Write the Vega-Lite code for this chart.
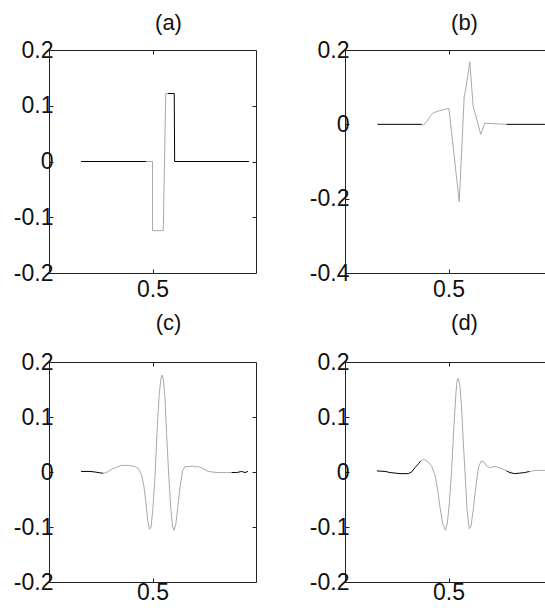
{
  "$schema": "https://vega.github.io/schema/vega-lite/v6.json",
  "background": "white",
  "padding": {"left": 12, "top": 11, "right": 0, "bottom": 0},
  "config": {
    "font": "Liberation Sans",
    "view": {"stroke": "#222222", "strokeWidth": 1},
    "axis": {
      "grid": false,
      "domain": false,
      "title": null,
      "tickColor": "#222222",
      "tickSize": -4,
      "labelFont": "Liberation Sans",
      "labelFontSize": 23,
      "labelColor": "#111111",
      "labelPadding": 0
    },
    "axisBottom": {"labelPadding": 4},
    "title": {"font": "Liberation Sans", "fontSize": 22, "fontWeight": "normal", "color": "#111111", "dx": 16, "baseline": "alphabetic"}
  },
  "columns": 2,
  "spacing": {"row": 89, "column": 89},
  "bounds": "flush",
  "datasets": {
    "a": [
      {"s": 1, "c": "k", "t": 0.155, "v": 0}, {"s": 1, "c": "k", "t": 0.47, "v": 0},
      {"s": 2, "c": "g", "t": 0.47, "v": 0}, {"s": 2, "c": "g", "t": 0.5, "v": 0},
      {"s": 2, "c": "g", "t": 0.5, "v": -0.124}, {"s": 2, "c": "g", "t": 0.552, "v": -0.124},
      {"s": 2, "c": "g", "t": 0.564, "v": 0.122}, {"s": 2, "c": "g", "t": 0.575, "v": 0.122},
      {"s": 3, "c": "k", "t": 0.575, "v": 0.122}, {"s": 3, "c": "k", "t": 0.605, "v": 0.122},
      {"s": 3, "c": "k", "t": 0.607, "v": 0}, {"s": 3, "c": "k", "t": 0.966, "v": 0}
    ],
    "b": [
      {"s": 1, "c": "k", "t": 0.157, "v": 0}, {"s": 1, "c": "k", "t": 0.371, "v": 0},
      {"s": 2, "c": "g", "t": 0.371, "v": 0}, {"s": 2, "c": "g", "t": 0.38, "v": -0.002},
      {"s": 2, "c": "g", "t": 0.387, "v": 0.003}, {"s": 2, "c": "g", "t": 0.398, "v": 0.009},
      {"s": 2, "c": "g", "t": 0.411, "v": 0.022}, {"s": 2, "c": "g", "t": 0.427, "v": 0.031},
      {"s": 2, "c": "g", "t": 0.451, "v": 0.036}, {"s": 2, "c": "g", "t": 0.475, "v": 0.039},
      {"s": 2, "c": "g", "t": 0.502, "v": 0.043}, {"s": 2, "c": "g", "t": 0.552, "v": -0.209},
      {"s": 2, "c": "g", "t": 0.576, "v": 0.076}, {"s": 2, "c": "g", "t": 0.582, "v": 0.09},
      {"s": 2, "c": "g", "t": 0.603, "v": 0.168}, {"s": 2, "c": "g", "t": 0.619, "v": 0.049},
      {"s": 2, "c": "g", "t": 0.656, "v": -0.027}, {"s": 2, "c": "g", "t": 0.675, "v": 0.003},
      {"s": 2, "c": "g", "t": 0.78, "v": 0},
      {"s": 3, "c": "k", "t": 0.78, "v": 0}, {"s": 3, "c": "k", "t": 0.966, "v": 0}
    ],
    "c": [
      {"s": 1, "c": "k", "t": 0.155, "v": 0.001}, {"s": 1, "c": "k", "t": 0.198, "v": 0.001},
      {"s": 1, "c": "k", "t": 0.222, "v": 0}, {"s": 1, "c": "k", "t": 0.254, "v": -0.002},
      {"s": 1, "c": "k", "t": 0.262, "v": -0.002},
      {"s": 2, "c": "g", "t": 0.262, "v": -0.002}, {"s": 2, "c": "g", "t": 0.27, "v": -0.002},
      {"s": 2, "c": "g", "t": 0.287, "v": 0.001}, {"s": 2, "c": "g", "t": 0.303, "v": 0.005},
      {"s": 2, "c": "g", "t": 0.327, "v": 0.009}, {"s": 2, "c": "g", "t": 0.351, "v": 0.012},
      {"s": 2, "c": "g", "t": 0.383, "v": 0.012}, {"s": 2, "c": "g", "t": 0.415, "v": 0.01},
      {"s": 2, "c": "g", "t": 0.432, "v": 0.006}, {"s": 2, "c": "g", "t": 0.448, "v": -0.006},
      {"s": 2, "c": "g", "t": 0.459, "v": -0.027}, {"s": 2, "c": "g", "t": 0.469, "v": -0.058},
      {"s": 2, "c": "g", "t": 0.477, "v": -0.088}, {"s": 2, "c": "g", "t": 0.485, "v": -0.104},
      {"s": 2, "c": "g", "t": 0.493, "v": -0.1}, {"s": 2, "c": "g", "t": 0.501, "v": -0.07},
      {"s": 2, "c": "g", "t": 0.512, "v": -0.009}, {"s": 2, "c": "g", "t": 0.523, "v": 0.082},
      {"s": 2, "c": "g", "t": 0.533, "v": 0.143}, {"s": 2, "c": "g", "t": 0.541, "v": 0.17},
      {"s": 2, "c": "g", "t": 0.546, "v": 0.176}, {"s": 2, "c": "g", "t": 0.552, "v": 0.17},
      {"s": 2, "c": "g", "t": 0.56, "v": 0.136}, {"s": 2, "c": "g", "t": 0.568, "v": 0.07},
      {"s": 2, "c": "g", "t": 0.578, "v": -0.003}, {"s": 2, "c": "g", "t": 0.588, "v": -0.064},
      {"s": 2, "c": "g", "t": 0.597, "v": -0.1}, {"s": 2, "c": "g", "t": 0.604, "v": -0.106},
      {"s": 2, "c": "g", "t": 0.613, "v": -0.094}, {"s": 2, "c": "g", "t": 0.622, "v": -0.064},
      {"s": 2, "c": "g", "t": 0.633, "v": -0.027}, {"s": 2, "c": "g", "t": 0.646, "v": 0.003},
      {"s": 2, "c": "g", "t": 0.657, "v": 0.01}, {"s": 2, "c": "g", "t": 0.681, "v": 0.01},
      {"s": 2, "c": "g", "t": 0.695, "v": 0.011}, {"s": 2, "c": "g", "t": 0.705, "v": 0.009},
      {"s": 2, "c": "g", "t": 0.721, "v": 0.01}, {"s": 2, "c": "g", "t": 0.745, "v": 0.006},
      {"s": 2, "c": "g", "t": 0.77, "v": 0.001}, {"s": 2, "c": "g", "t": 0.81, "v": -0.001},
      {"s": 2, "c": "g", "t": 0.858, "v": -0.001}, {"s": 2, "c": "g", "t": 0.882, "v": -0.001},
      {"s": 3, "c": "k", "t": 0.882, "v": -0.001}, {"s": 3, "c": "k", "t": 0.907, "v": -0.001},
      {"s": 3, "c": "k", "t": 0.931, "v": 0.001}, {"s": 3, "c": "k", "t": 0.947, "v": -0.001},
      {"s": 3, "c": "k", "t": 0.961, "v": 0.001}
    ],
    "d": [
      {"s": 1, "c": "k", "t": 0.154, "v": 0.002}, {"s": 1, "c": "k", "t": 0.194, "v": 0.001},
      {"s": 1, "c": "k", "t": 0.218, "v": -0.001}, {"s": 1, "c": "k", "t": 0.242, "v": -0.002},
      {"s": 1, "c": "k", "t": 0.266, "v": -0.003}, {"s": 1, "c": "k", "t": 0.306, "v": -0.003},
      {"s": 1, "c": "k", "t": 0.322, "v": 0}, {"s": 1, "c": "k", "t": 0.338, "v": 0.008},
      {"s": 1, "c": "k", "t": 0.355, "v": 0.015}, {"s": 1, "c": "k", "t": 0.365, "v": 0.02},
      {"s": 2, "c": "g", "t": 0.365, "v": 0.02}, {"s": 2, "c": "g", "t": 0.375, "v": 0.022},
      {"s": 2, "c": "g", "t": 0.387, "v": 0.022}, {"s": 2, "c": "g", "t": 0.403, "v": 0.018},
      {"s": 2, "c": "g", "t": 0.419, "v": 0.01}, {"s": 2, "c": "g", "t": 0.435, "v": -0.006},
      {"s": 2, "c": "g", "t": 0.448, "v": -0.033}, {"s": 2, "c": "g", "t": 0.459, "v": -0.064},
      {"s": 2, "c": "g", "t": 0.472, "v": -0.094}, {"s": 2, "c": "g", "t": 0.485, "v": -0.106},
      {"s": 2, "c": "g", "t": 0.494, "v": -0.094}, {"s": 2, "c": "g", "t": 0.504, "v": -0.058},
      {"s": 2, "c": "g", "t": 0.515, "v": 0.003}, {"s": 2, "c": "g", "t": 0.526, "v": 0.082},
      {"s": 2, "c": "g", "t": 0.536, "v": 0.143}, {"s": 2, "c": "g", "t": 0.542, "v": 0.167},
      {"s": 2, "c": "g", "t": 0.547, "v": 0.17}, {"s": 2, "c": "g", "t": 0.554, "v": 0.161},
      {"s": 2, "c": "g", "t": 0.562, "v": 0.124}, {"s": 2, "c": "g", "t": 0.571, "v": 0.058},
      {"s": 2, "c": "g", "t": 0.581, "v": -0.009}, {"s": 2, "c": "g", "t": 0.59, "v": -0.07},
      {"s": 2, "c": "g", "t": 0.6, "v": -0.103}, {"s": 2, "c": "g", "t": 0.608, "v": -0.1},
      {"s": 2, "c": "g", "t": 0.619, "v": -0.07}, {"s": 2, "c": "g", "t": 0.632, "v": -0.027},
      {"s": 2, "c": "g", "t": 0.645, "v": 0.009}, {"s": 2, "c": "g", "t": 0.658, "v": 0.02},
      {"s": 2, "c": "g", "t": 0.671, "v": 0.018}, {"s": 2, "c": "g", "t": 0.687, "v": 0.01},
      {"s": 2, "c": "g", "t": 0.703, "v": 0.008}, {"s": 2, "c": "g", "t": 0.719, "v": 0.01},
      {"s": 2, "c": "g", "t": 0.735, "v": 0.009}, {"s": 2, "c": "g", "t": 0.756, "v": 0.006},
      {"s": 2, "c": "g", "t": 0.78, "v": 0.002},
      {"s": 3, "c": "k", "t": 0.78, "v": 0.002}, {"s": 3, "c": "k", "t": 0.796, "v": -0.001},
      {"s": 3, "c": "k", "t": 0.82, "v": -0.003}, {"s": 3, "c": "k", "t": 0.844, "v": -0.002},
      {"s": 3, "c": "k", "t": 0.868, "v": -0.001}, {"s": 3, "c": "k", "t": 0.892, "v": 0.001},
      {"s": 4, "c": "g", "t": 0.892, "v": 0.001}, {"s": 4, "c": "g", "t": 0.924, "v": 0.003},
      {"s": 4, "c": "g", "t": 0.966, "v": 0.003}
    ]
  },
  "concat": [
    {
      "width": 207, "height": 223,
      "title": {"text": "(a)", "offset": 4},
      "data": {"name": "a"},
      "layer": [
        {
          "mark": {"type": "line", "strokeWidth": 1},
          "encoding": {
            "x": {"field": "t", "type": "quantitative", "scale": {"domain": [0, 1]}, "axis": {"orient": "bottom", "values": [0.5], "labelPadding": 9, "labelExpr": "toString(datum.value)"}},
            "y": {"field": "v", "type": "quantitative", "scale": {"domain": [-0.2, 0.2]}, "axis": {"orient": "left", "values": [-0.2, -0.1, 0, 0.1, 0.2], "labelExpr": "toString(datum.value)"}},
            "color": {"field": "c", "type": "nominal", "scale": {"domain": ["k", "g"], "range": ["#000000", "#a9a9a9"]}, "legend": null},
            "detail": {"field": "s"},
            "order": {"value": null}
          }
        },
        {
          "mark": {"type": "point", "opacity": 0},
          "encoding": {
            "x": {"field": "t", "type": "quantitative", "axis": {"orient": "top", "values": [0.5], "labels": false}},
            "y": {"field": "v", "type": "quantitative", "axis": {"orient": "right", "values": [-0.1, 0, 0.1], "labels": false}}
          }
        }
      ],
      "resolve": {"axis": {"x": "independent", "y": "independent"}}
    },
    {
      "width": 207, "height": 223,
      "title": {"text": "(b)", "offset": 4},
      "data": {"name": "b"},
      "layer": [
        {
          "mark": {"type": "line", "strokeWidth": 1},
          "encoding": {
            "x": {"field": "t", "type": "quantitative", "scale": {"domain": [0, 1]}, "axis": {"orient": "bottom", "values": [0.5], "labelPadding": 9, "labelExpr": "toString(datum.value)"}},
            "y": {"field": "v", "type": "quantitative", "scale": {"domain": [-0.4, 0.2]}, "axis": {"orient": "left", "values": [-0.4, -0.2, 0, 0.2], "labelExpr": "toString(datum.value)"}},
            "color": {"field": "c", "type": "nominal", "scale": {"domain": ["k", "g"], "range": ["#000000", "#a9a9a9"]}, "legend": null},
            "detail": {"field": "s"},
            "order": {"value": null}
          }
        },
        {
          "mark": {"type": "point", "opacity": 0},
          "encoding": {
            "x": {"field": "t", "type": "quantitative", "axis": {"orient": "top", "values": [0.5], "labels": false}},
            "y": {"field": "v", "type": "quantitative", "axis": {"orient": "right", "values": [-0.2, 0], "labels": false}}
          }
        }
      ],
      "resolve": {"axis": {"x": "independent", "y": "independent"}}
    },
    {
      "width": 207, "height": 220,
      "title": {"text": "(c)", "offset": 16},
      "data": {"name": "c"},
      "layer": [
        {
          "mark": {"type": "line", "strokeWidth": 1},
          "encoding": {
            "x": {"field": "t", "type": "quantitative", "scale": {"domain": [0, 1]}, "axis": {"orient": "bottom", "values": [0.5], "labelPadding": 3, "labelExpr": "toString(datum.value)"}},
            "y": {"field": "v", "type": "quantitative", "scale": {"domain": [-0.2, 0.2]}, "axis": {"orient": "left", "values": [-0.2, -0.1, 0, 0.1, 0.2], "labelExpr": "toString(datum.value)"}},
            "color": {"field": "c", "type": "nominal", "scale": {"domain": ["k", "g"], "range": ["#000000", "#a9a9a9"]}, "legend": null},
            "detail": {"field": "s"},
            "order": {"value": null}
          }
        },
        {
          "mark": {"type": "point", "opacity": 0},
          "encoding": {
            "x": {"field": "t", "type": "quantitative", "axis": {"orient": "top", "values": [0.5], "labels": false}},
            "y": {"field": "v", "type": "quantitative", "axis": {"orient": "right", "values": [-0.1, 0, 0.1], "labels": false}}
          }
        }
      ],
      "resolve": {"axis": {"x": "independent", "y": "independent"}}
    },
    {
      "width": 207, "height": 220,
      "title": {"text": "(d)", "offset": 16},
      "data": {"name": "d"},
      "layer": [
        {
          "mark": {"type": "line", "strokeWidth": 1},
          "encoding": {
            "x": {"field": "t", "type": "quantitative", "scale": {"domain": [0, 1]}, "axis": {"orient": "bottom", "values": [0.5], "labelPadding": 3, "labelExpr": "toString(datum.value)"}},
            "y": {"field": "v", "type": "quantitative", "scale": {"domain": [-0.2, 0.2]}, "axis": {"orient": "left", "values": [-0.2, -0.1, 0, 0.1, 0.2], "labelExpr": "toString(datum.value)"}},
            "color": {"field": "c", "type": "nominal", "scale": {"domain": ["k", "g"], "range": ["#000000", "#a9a9a9"]}, "legend": null},
            "detail": {"field": "s"},
            "order": {"value": null}
          }
        },
        {
          "mark": {"type": "point", "opacity": 0},
          "encoding": {
            "x": {"field": "t", "type": "quantitative", "axis": {"orient": "top", "values": [0.5], "labels": false}},
            "y": {"field": "v", "type": "quantitative", "axis": {"orient": "right", "values": [-0.1, 0, 0.1], "labels": false}}
          }
        }
      ],
      "resolve": {"axis": {"x": "independent", "y": "independent"}}
    }
  ]
}
